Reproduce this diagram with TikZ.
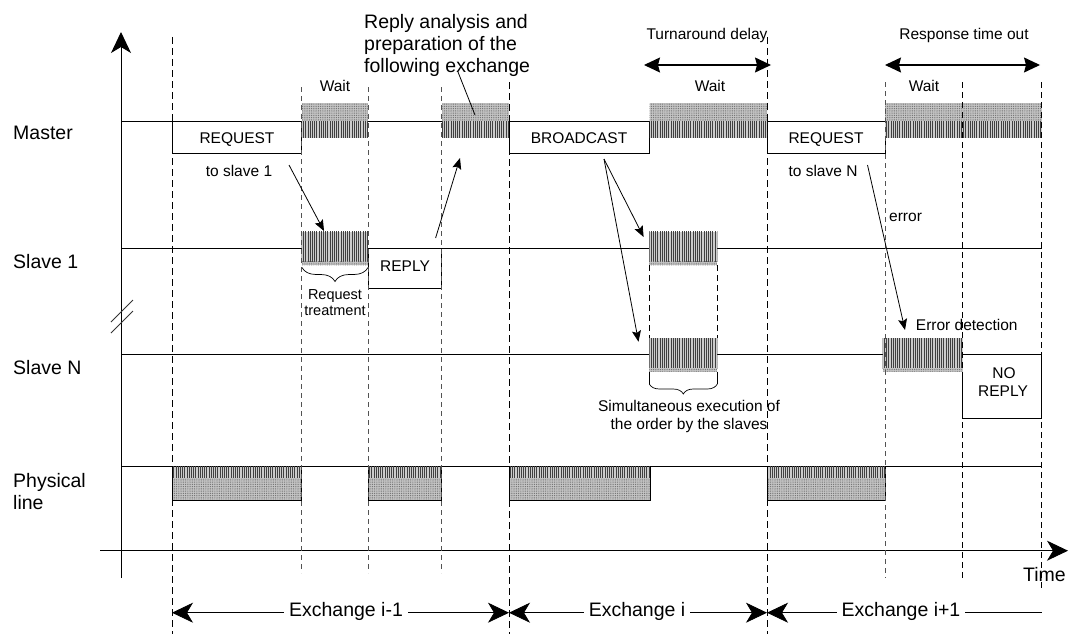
\documentclass[tikz,border=0pt]{standalone}
\usepackage{fontspec}
\setmainfont{Liberation Sans}
\usetikzlibrary{arrows.meta,patterns.meta,decorations.pathreplacing}
\begin{document}
\begin{tikzpicture}[x=1pt,y=-1pt,
  sig/.style={line width=0.8pt},
  mdash/.style={line width=0.9pt, dash pattern=on 7pt off 4pt},
  ldash/.style={line width=0.8pt, draw=gray!65!black, dash pattern=on 5pt off 4pt},
  stripes/.style={fill=gray!40, postaction={pattern={Lines[angle=90,distance=2.2pt,line width=0.9pt]}, pattern color=black!75}},
  dotsfill/.style={fill=gray!45, postaction={pattern={Dots[distance=1.8pt,radius=0.5pt]}, pattern color=black!60}},
  txt/.style={inner sep=0pt, anchor=base, font=\fontsize{15.5}{18}\selectfont},
  stxt/.style={inner sep=0pt, anchor=base, font=\fontsize{14.5}{17}\selectfont},
  btxt/.style={inner sep=0pt, anchor=base west, font=\fontsize{19.5}{23}\selectfont},
  extxt/.style={inner xsep=5pt, inner ysep=2pt, anchor=base, fill=white, font=\fontsize{19.5}{23}\selectfont},
  bigtip/.style={-{Stealth[length=21pt,width=20pt,inset=6pt]}},
  midtips/.style={{Stealth[length=16pt,width=15pt,inset=2pt]}-{Stealth[length=16pt,width=15pt,inset=2pt]}},
  smalltip/.style={-{Stealth[length=11pt,width=9pt,inset=2pt]}},
  brc/.style={decorate, line width=0.7pt},
]
\useasboundingbox (0,0) rectangle (1070,634);

% ---------- signal lines ----------
\draw[sig] (121,121) -- (1042,121);
\draw[sig] (121,248.5) -- (1042,248.5);
\draw[sig] (121,354.3) -- (1042,354.3);
\draw[sig] (121,466.7) -- (1042,466.7);

% frames
\draw[sig] (172,121) rectangle (301.7,153.3);
\draw[sig] (509,121) rectangle (649.5,153.3);
\draw[sig] (767,121) rectangle (885,153.3);
\draw[sig] (368.3,248.5) rectangle (441.7,288.3);
\draw[sig] (962.7,354.3) rectangle (1041.7,418.3);

% ---------- hatched blocks ----------
% master
\foreach \a/\b in {301.7/368.3, 441.7/509, 649.5/767, 885/1041.7}{
  \path[dotsfill] (\a,103.3) rectangle (\b,121);
  \path[stripes] (\a,121) rectangle (\b,137.7);
}
% slaves
\foreach \a/\b/\t in {301.7/368.3/231.7, 649.3/717.3/231.7, 649.3/717.3/338.3, 882.7/962.7/338.3}{
  \path[stripes] (\a,\t) rectangle (\b,\t+30);
  \path[dotsfill] (\a,\t+30) rectangle (\b,\t+33.4);
}
% physical line
\foreach \a/\b in {172/301.7, 368.3/441.7, 509/650.5, 767/885}{
  \path[stripes] (\a,466.7) rectangle (\b,478);
  \path[dotsfill] (\a,478) rectangle (\b,500);
  \draw[sig] (\a,466.7) -- (\a,500) -- (\b,500) -- (\b,466.7);
}

% ---------- axes ----------
\coordinate (ybot) at (121,578);
\coordinate (ytop) at (121,32);
\coordinate (xl) at (100,550.7);
\coordinate (xr) at (1068,550.7);
\draw[line width=1pt, bigtip] (ybot) -- (ytop);
\draw[line width=1pt, bigtip] (xl) -- (xr);
\draw[line width=0.8pt, gray!40!black] (111,322) -- (133,300);
\draw[line width=0.8pt, gray!40!black] (111,333) -- (133,311);

% ---------- dashed time marks ----------
\draw[mdash] (172,37) -- (172,634);
\draw[mdash] (509,82) -- (509,634);
\draw[mdash] (767,37) -- (767,634);
\draw[ldash] (301.7,87) -- (301.7,573);
\draw[ldash] (368.3,87) -- (368.3,573);
\draw[ldash] (441.7,87) -- (441.7,573);
\draw[ldash] (885,82) -- (885,578);
\draw[mdash, line width=0.8pt, dash pattern=on 6pt off 4pt] (962.7,82) -- (962.7,578);
\draw[mdash, line width=0.8pt, dash pattern=on 6pt off 4pt] (1041.7,82) -- (1041.7,590);
\draw[mdash, line width=0.8pt, dash pattern=on 6pt off 4pt] (649.3,265) -- (649.3,338.3);
\draw[mdash, line width=0.8pt, dash pattern=on 6pt off 4pt] (717.3,265) -- (717.3,338.3);

% ---------- braces ----------
\draw[brc, decoration={brace, mirror, amplitude=14pt}] (302,267.5) -- (368,267.5);
\draw[line width=0.7pt] (649.3,371.7) -- (649.3,384) (717.3,371.7) -- (717.3,384);
\draw[brc, decoration={brace, mirror, amplitude=10pt}] (649.3,384) -- (717.3,384);

% ---------- interval arrows ----------
\coordinate (ta) at (644,65);
\coordinate (tb) at (771,65);
\coordinate (ra) at (885,65);
\coordinate (rb) at (1040,65);
\draw[line width=1.1pt, midtips] (ta) -- (tb);
\draw[line width=1.1pt, midtips] (ra) -- (rb);

\coordinate (e0) at (172,612.7);
\coordinate (e1) at (509,612.7);
\coordinate (e2) at (767,612.7);
\coordinate (e3) at (1041.7,612.7);
\draw[line width=0.8pt, {Stealth[length=21pt,width=20pt,inset=6pt]}-{Stealth[length=21pt,width=20pt,inset=6pt]}] (e0) -- (e1);
\draw[line width=0.8pt, {Stealth[length=21pt,width=20pt,inset=6pt]}-{Stealth[length=21pt,width=20pt,inset=6pt]}] (e1) -- (e2);
\draw[line width=0.8pt, {Stealth[length=21pt,width=20pt,inset=6pt]}-] (e2) -- (e3);

% ---------- pointer arrows ----------
\coordinate (p1s) at (289,165);
\coordinate (p1e) at (324,231);
\coordinate (p2s) at (435.6,238);
\coordinate (p2e) at (460,158);
\coordinate (p3s) at (458,72);
\coordinate (p3e) at (475,115);
\coordinate (bs) at (604,159);
\coordinate (b1e) at (643.6,237);
\coordinate (b2e) at (638.5,341.7);
\coordinate (es) at (867.5,165);
\coordinate (ee) at (905,330);
\draw[line width=0.8pt, smalltip] (p1s) -- (p1e);
\draw[line width=0.8pt, smalltip] (p2s) -- (p2e);
\draw[line width=0.8pt] (p3s) -- (p3e);
\draw[line width=0.8pt, smalltip] (bs) -- (b1e);
\draw[line width=0.8pt, smalltip] (bs) -- (b2e);
\draw[line width=0.8pt, smalltip] (es) -- (ee);

% ---------- labels ----------
\node[btxt] (lmaster) at (13,139.5) {Master};
\node[btxt] (lslave1) at (13,268) {Slave 1};
\node[btxt] (lslaveN) at (13,374) {Slave N};
\node[btxt] (lphys1) at (13,487.7) {Physical};
\node[btxt] (lphys2) at (13,509.3) {line};
\node[btxt] (ltime) at (1023,581) {Time};

\node[btxt] (ra1) at (364,28.3) {Reply analysis and};
\node[btxt] (ra2) at (364,50.5) {preparation of the};
\node[btxt] (ra3) at (364,72.7) {following exchange};

\node[txt] (req1) at (237,143.3) {REQUEST};
\node[txt] (to1) at (239,176) {to slave 1};
\node[txt] (wait1) at (335,92) {Wait};
\node[txt] (reply) at (405,271.7) {REPLY};
\node[stxt] (rt1) at (335,299) {Request};
\node[stxt] (rt2) at (335,315) {treatment};

\node[txt] (turn) at (707,39.3) {Turnaround delay};
\node[txt] (bcast) at (579,143.3) {BROADCAST};
\node[txt] (wait2) at (710,92) {Wait};
\node[txt] (sim1) at (689,411) {Simultaneous execution of};
\node[txt] (sim2) at (689,429) {the order by the slaves};

\node[txt] (resp) at (964,39.3) {Response time out};
\node[txt] (req2) at (826,143.3) {REQUEST};
\node[txt] (toN) at (823,176) {to slave N};
\node[txt] (wait3) at (924,92) {Wait};
\node[txt, anchor=base west] (err) at (889,221.7) {error};
\node[txt, anchor=base west] (errdet) at (915.7,330.7) {Error detection};
\node[txt] (no1) at (1004,378.3) {NO};
\node[txt] (no2) at (1003,396) {REPLY};

\node[extxt] (ex1) at (346,616) {Exchange i-1};
\node[extxt] (ex2) at (637,616) {Exchange i};
\node[extxt] (ex3) at (901,616) {Exchange i+1};
\end{tikzpicture}
\end{document}
